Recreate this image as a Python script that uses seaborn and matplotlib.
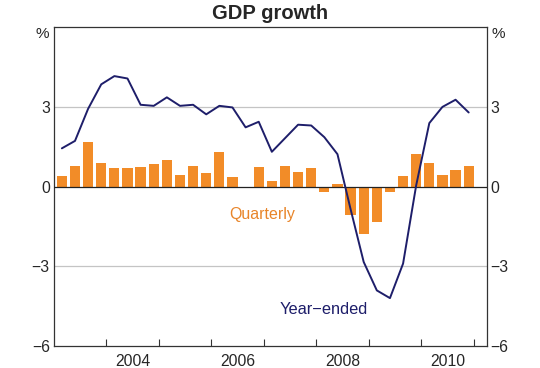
import numpy as np
import pandas as pd
import matplotlib
matplotlib.use("Agg")
import matplotlib.pyplot as plt
import seaborn as sns

# quarterly dates, 2003Q1 .. 2010Q4 (plotted a touch past mid-quarter)
years = [2003] * 4 + [2004] * 4 + [2005] * 4 + [2006] * 4 + [2007] * 4 + [2008] * 4 + [2009] * 4 + [2010] * 4
qtr = [1, 2, 3, 4] * 8

quarterly = [0.38, 0.79, 1.67, 0.88, 0.70, 0.70, 0.73, 0.84,
             0.99, 0.42, 0.76, 0.51, 1.30, 0.36, 0.00, 0.73,
             0.20, 0.79, 0.55, 0.70, -0.22, 0.10, -1.07, -1.80,
             -1.32, -0.22, 0.39, 1.22, 0.90, 0.42, 0.64, 0.79]

year_ended = [1.44, 1.72, 2.93, 3.85, 4.16, 4.07, 3.08, 3.04,
              3.36, 3.04, 3.08, 2.72, 3.04, 2.98, 2.23, 2.44,
              1.31, 1.82, 2.33, 2.30, 1.86, 1.22, -0.85, -2.84,
              -3.91, -4.20, -2.90, 0.05, 2.39, 3.00, 3.27, 2.79]

y_ticks = [-6, -3, 0, 3, 6]
y_ticklabels = ["\u22126", "\u22123", "0", "3", ""]
year_labels = ["2004", "2006", "2008", "2010"]

df = pd.DataFrame({"year": years, "q": qtr, "quarterly": quarterly, "year_ended": year_ended})
df["x"] = df["year"] + (df["q"] - 0.4) / 4

bar_col = "#F28C28"
line_col = "#1E1E6A"

sns.set_theme(style="white")
plt.rcParams["font.family"] = ["Liberation Sans", "DejaVu Sans"]

fig = plt.figure(figsize=(5.4, 3.68), dpi=100)
ax = fig.add_axes([0.1, 0.06, 0.801, 0.866])

ax.axhline(3, color="#c4c4c4", lw=0.9, zorder=0)
ax.axhline(-3, color="#c4c4c4", lw=0.9, zorder=0)

sns.barplot(data=df, x="x", y="quarterly", native_scale=True, width=0.78,
            color=bar_col, saturation=1, edgecolor="none", ax=ax, zorder=2)
ax.axhline(0, color="#222222", lw=0.9, zorder=3)
sns.lineplot(data=df, x="x", y="year_ended", color=line_col, lw=1.4, ax=ax, zorder=4)

ax.set_xlim(2003.0, 2011.24)
ax.set_ylim(-6, 6)
ax.set_xlabel("")
ax.set_ylabel("")

ax.set_xticks(range(2004, 2012))
ax.set_xticklabels([])
ax.set_xticks([int(y) + 0.5 for y in year_labels], minor=True)
ax.set_xticklabels(year_labels, minor=True)
ax.tick_params(axis="x", which="major", direction="in", length=5, width=0.8, color="#333333", bottom=True)
ax.tick_params(axis="x", which="minor", length=0, labelsize=11.3, pad=6)

ax.set_yticks(y_ticks)
ax.set_yticklabels(y_ticklabels)
ax.tick_params(axis="y", length=0, labelsize=11.3, pad=3, labelleft=True, labelright=True)

for s in ax.spines.values():
    s.set_color("#333333")
    s.set_linewidth(0.9)

ax.text(-0.012, 0.978, "%", transform=ax.transAxes, ha="right", va="center", fontsize=11)
ax.text(1.012, 0.978, "%", transform=ax.transAxes, ha="left", va="center", fontsize=11)

ax.text(2006.97, -1.07, "Quarterly", color="#E8852A", ha="center", va="center", fontsize=11.5)
ax.text(2008.13, -4.63, "Year\u2212ended", color=line_col, ha="center", va="center", fontsize=11.8)

fig.suptitle("GDP growth", x=0.5, y=0.988, fontsize=14.5, fontweight="bold", va="top")

fig.savefig("out.png", dpi=100)
